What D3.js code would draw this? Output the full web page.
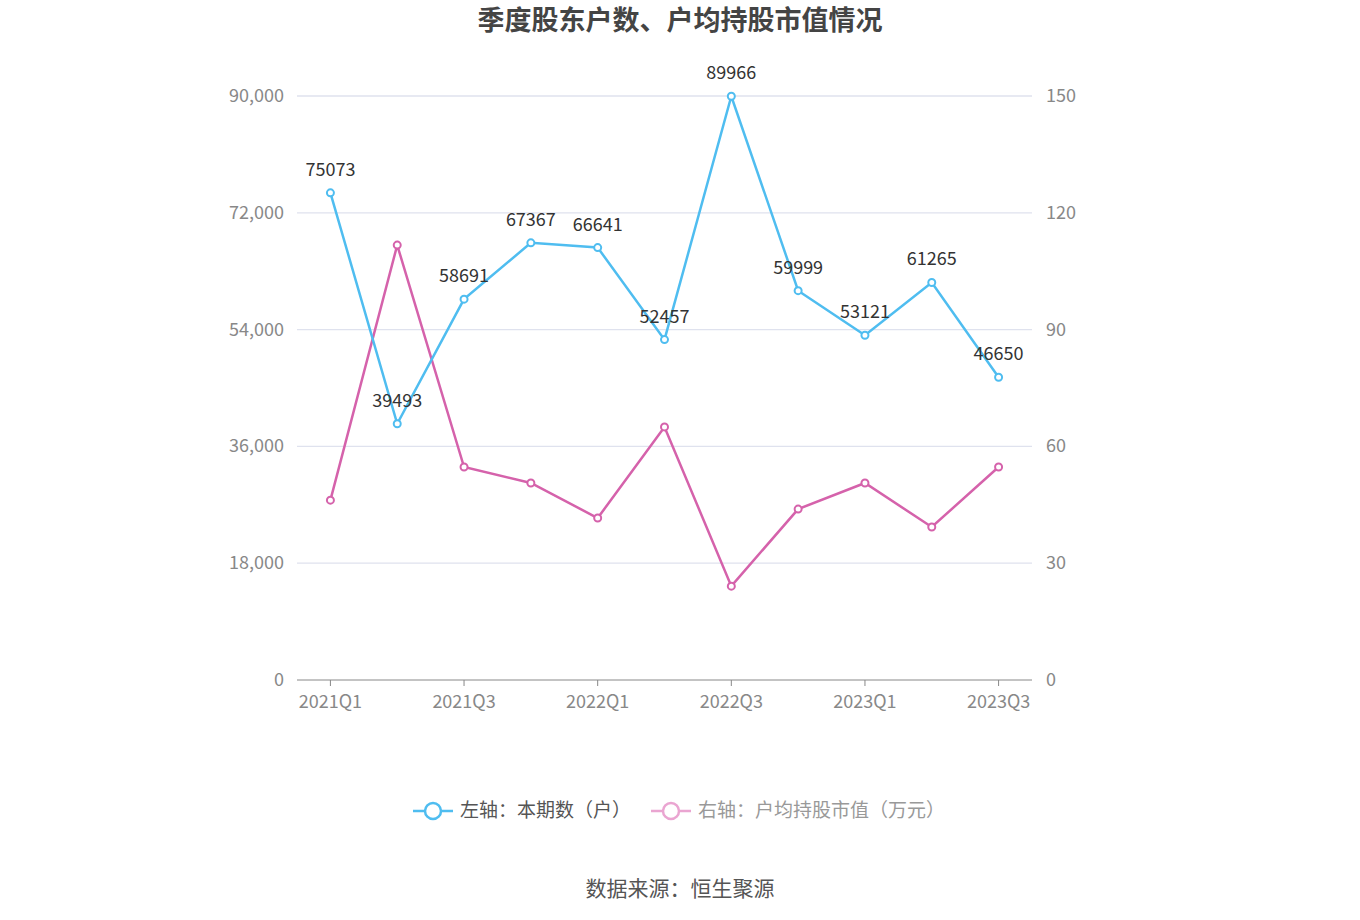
<!DOCTYPE html>
<html><head><meta charset="utf-8">
<script src="https://cdn.jsdelivr.net/npm/d3@7"></script>
<style>body{margin:0;background:#fff;font-family:"Noto Sans CJK SC","Noto Sans",sans-serif}</style>
</head><body><svg id="c" width="1360" height="920"></svg>
<script>
const categories=["2021Q1","2021Q2","2021Q3","2021Q4","2022Q1","2022Q2","2022Q3","2022Q4","2023Q1","2023Q2","2023Q3"];
const holders=[75073,39493,58691,67367,66641,52457,89966,59999,53121,61265,46650];
const avgValue=[46.2,111.7,54.7,50.6,41.6,65.0,24.1,43.9,50.6,39.3,54.7];
const leftTicks=[0,18000,36000,54000,72000,90000];
const rightTicks=[0,30,60,90,120,150];
const svg=d3.select("#c");
const L=297,R=1032,T=96,B=680;
const x=d3.scaleBand().domain(categories).range([L,R]);
const cx=d=>x(d)+x.bandwidth()/2;
const yl=d3.scaleLinear().domain([0,90000]).range([B,T]);
const yr=d3.scaleLinear().domain([0,150]).range([B,T]);
const blue="#4fbdf0",pink="#d562ab",grey="#888";
svg.append("text").attr("x",680).attr("y",30).attr("text-anchor","middle").attr("font-size",27).attr("font-weight","bold").attr("fill","#444").text("季度股东户数、户均持股市值情况");
leftTicks.forEach((t,i)=>{
  if(i>0)svg.append("line").attr("x1",L).attr("x2",R).attr("y1",yl(t)).attr("y2",yl(t)).attr("stroke","#dfe2ee").attr("stroke-width",1.3);
  svg.append("text").attr("x",284).attr("y",yl(t)+6).attr("text-anchor","end").attr("font-size",18).attr("fill",grey).text(d3.format(",")(t));
});
rightTicks.forEach(t=>svg.append("text").attr("x",1046).attr("y",yr(t)+6).attr("font-size",18).attr("fill",grey).text(t));
svg.append("line").attr("x1",L).attr("x2",R).attr("y1",B).attr("y2",B).attr("stroke","#888");
categories.forEach((c,i)=>{
  if(i%2==0){
    svg.append("line").attr("x1",cx(c)).attr("x2",cx(c)).attr("y1",B).attr("y2",B+6).attr("stroke","#888");
    svg.append("text").attr("x",cx(c)).attr("y",708).attr("text-anchor","middle").attr("font-size",18).attr("fill",grey).text(c);
  }
});
function series(vals,y,col){
  svg.append("path").datum(vals).attr("fill","none").attr("stroke",col).attr("stroke-width",2.5)
    .attr("d",d3.line().x((d,i)=>cx(categories[i])).y(d=>y(d)));
  svg.selectAll(null).data(vals).enter().append("circle").attr("cx",(d,i)=>cx(categories[i])).attr("cy",d=>y(d)).attr("r",3.5).attr("fill","#fff").attr("stroke",col).attr("stroke-width",2);
}
series(avgValue,yr,pink);
series(holders,yl,blue);
holders.forEach((v,i)=>svg.append("text").attr("x",cx(categories[i])).attr("y",yl(v)-17).attr("text-anchor","middle").attr("font-size",18).attr("fill","#333").text(v));
function leg(x0,col,txt,tc){
  svg.append("line").attr("x1",x0).attr("x2",x0+40).attr("y1",811).attr("y2",811).attr("stroke",col).attr("stroke-width",2.5);
  svg.append("circle").attr("cx",x0+20).attr("cy",811).attr("r",8).attr("fill","#fff").attr("stroke",col).attr("stroke-width",2.5);
  svg.append("text").attr("x",x0+47).attr("y",817).attr("font-size",19).attr("fill",tc).text(txt);
}
leg(413,blue,"左轴：本期数（户）","#555");
leg(651,"#eaa5d1","右轴：户均持股市值（万元）","#999");
svg.append("text").attr("x",680).attr("y",896).attr("text-anchor","middle").attr("font-size",21).attr("fill","#555").text("数据来源：恒生聚源");
</script></body></html>
